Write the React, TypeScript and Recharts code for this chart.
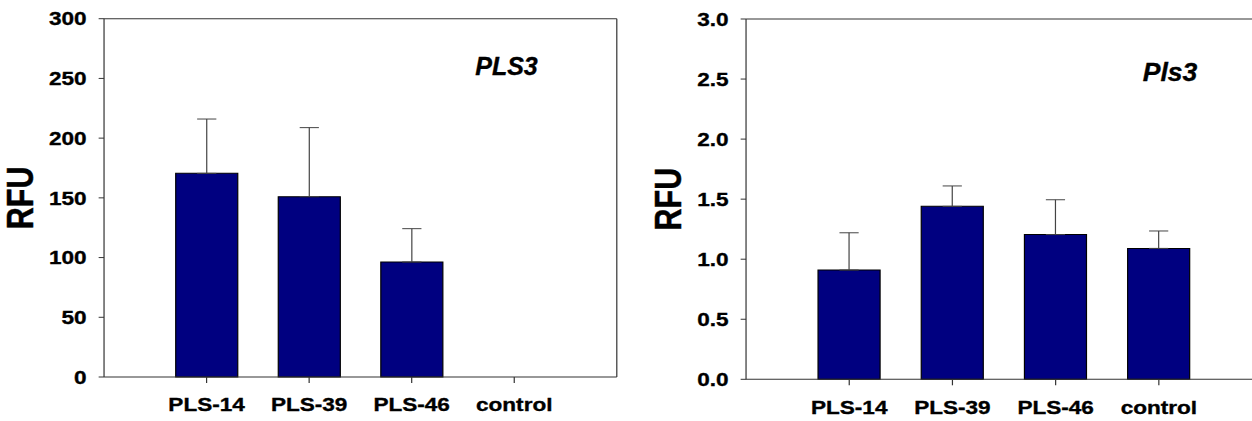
import { BarChart, Bar, XAxis, YAxis, ErrorBar, ReferenceLine } from "recharts";

// categories and values
const categories = ["PLS-14", "PLS-39", "PLS-46", "control"];
const positions = [1, 2, 3, 4];

const humanMeans = [170.5, 151, 96.3, 0];
const humanErrors = [45.5, 57.8, 27.9, 0.6];
const humanTicks = [0, 50, 100, 150, 200, 250, 300];

const mouseMeans = [0.91, 1.44, 1.205, 1.09];
const mouseErrors = [0.31, 0.17, 0.29, 0.145];
const mouseTicks = [0, 0.5, 1, 1.5, 2, 2.5, 3];

const STRETCH = 1.2;
const FONT = '"Liberation Sans", Arial, sans-serif';
const AXIS = "#333";

function rows(means: number[], errs: number[]) {
  return positions.map((x, i) => ({ x, mean: means[i], err: [0, errs[i]] }));
}

interface PanelProps {
  data: { x: number; mean: number; err: number[] }[];
  ticks: number[];
  left: number;
  width: number;
  axisWidth: number;
  margin: { top: number; right: number; bottom: number; left: number };
  digits: number;
}

function Panel({ data, ticks, left, width, axisWidth, margin, digits }: PanelProps) {
  const tickStyle = {
    fill: "#000",
    stroke: "#000",
    strokeWidth: 0.35,
    fontSize: 18.8,
    fontWeight: 700,
    fontFamily: FONT,
  };
  const yMax = ticks[ticks.length - 1];
  return (
    <div style={{ position: "absolute", left, top: 0 }}>
      <BarChart width={width} height={421} data={data} margin={margin}>
        <XAxis
          dataKey="x"
          type="number"
          domain={[0, 5]}
          ticks={positions}
          tickFormatter={(v: number) => categories[v - 1]}
          height={30}
          tickSize={6}
          tickMargin={15}
          tick={tickStyle}
          axisLine={{ stroke: AXIS }}
          tickLine={{ stroke: AXIS }}
          interval={0}
        />
        <YAxis
          type="number"
          domain={[0, yMax]}
          ticks={ticks}
          width={axisWidth}
          tickSize={4.5}
          tickMargin={10}
          tick={tickStyle}
          tickFormatter={(v: number) => v.toFixed(digits)}
          axisLine={{ stroke: AXIS }}
          tickLine={{ stroke: AXIS }}
          label={{
            content: (props: any) => {
              const vb = props.viewBox || { x: 0, y: 0, height: 0 };
              const cx = vb.x + 17.5;
              const cy = vb.y + vb.height / 2;
              return (
                <text
                  x={cx}
                  y={cy}
                  transform={`rotate(-90, ${cx}, ${cy})`}
                  textAnchor="middle"
                  dominantBaseline="central"
                  style={{
                    fontSize: 30.5,
                    fontWeight: 700,
                    fontFamily: FONT,
                    fill: "#000",
                    stroke: "#000",
                    strokeWidth: 0.4,
                  }}
                >
                  RFU
                </text>
              );
            },
          }}
        />
        <ReferenceLine y={yMax} stroke={AXIS} />
        <ReferenceLine x={5} stroke={AXIS} />
        <Bar dataKey="mean" fill="#000080" stroke="#000" strokeWidth={1} barSize={51.7} isAnimationActive={false}>
          <ErrorBar dataKey="err" width={8} stroke="#444" strokeWidth={1} direction="y" />
        </Bar>
      </BarChart>
    </div>
  );
}

export default function App() {
  const titleStyle = {
    fontWeight: 700,
    fontStyle: "italic",
    fontFamily: FONT,
    fill: "#000",
    stroke: "#000",
    strokeWidth: 0.35,
  };
  return (
    <div
      style={{
        position: "absolute",
        left: 0,
        top: 0,
        width: 1252,
        height: 421,
        overflow: "hidden",
        background: "#fff",
      }}
    >
      <div
        style={{
          position: "relative",
          width: 1252 / STRETCH,
          height: 421,
          transform: `scaleX(${STRETCH})`,
          transformOrigin: "0 0",
        }}
      >
        <Panel
          data={rows(humanMeans, humanErrors)}
          ticks={humanTicks}
          left={0}
          width={560}
          axisWidth={86.7}
          margin={{ top: 18.7, right: 46, bottom: 14, left: 0 }}
          digits={0}
        />
        <Panel
          data={rows(mouseMeans, mouseErrors)}
          ticks={mouseTicks}
          left={540}
          width={540}
          axisWidth={81.7}
          margin={{ top: 19, right: 28.3, bottom: 11.7, left: 0 }}
          digits={1}
        />
      </div>
      <svg width={1252} height={421} style={{ position: "absolute", left: 0, top: 0, pointerEvents: "none" }}>
        <text x={506.5} y={75} textAnchor="middle" style={{ ...titleStyle, fontSize: 25 }}>
          PLS3
        </text>
        <text x={1170} y={81} textAnchor="middle" style={{ ...titleStyle, fontSize: 26.5 }}>
          Pls3
        </text>
      </svg>
    </div>
  );
}
